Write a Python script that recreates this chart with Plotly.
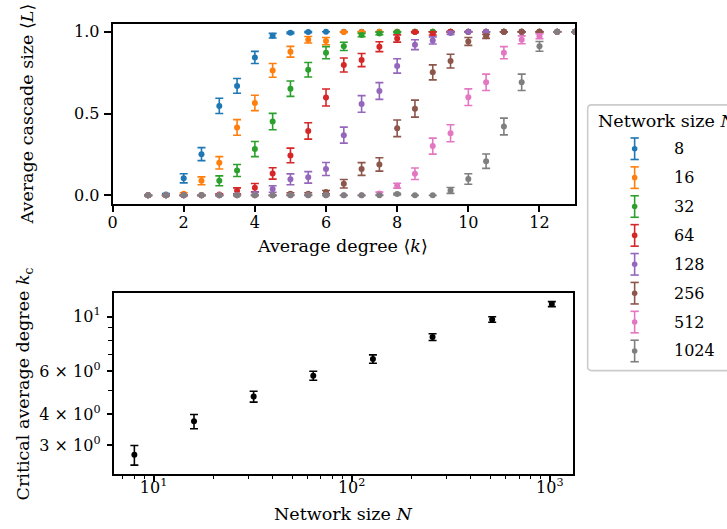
import plotly.graph_objects as go

# ---------------- data ----------------
network_sizes = [8, 16, 32, 64, 128, 256, 512, 1024]
series_colors = ["#1f77b4", "#ff7f0e", "#2ca02c", "#d62728",
                 "#9467bd", "#8c564b", "#e377c2", "#7f7f7f"]

avg_degree = [1.0, 1.5, 2.0, 2.5, 3.0, 3.5, 4.0, 4.5, 5.0, 5.5, 6.0, 6.5, 7.0,
              7.5, 8.0, 8.5, 9.0, 9.5, 10.0, 10.5, 11.0, 11.5, 12.0, 12.5, 13.0]

cascade_n8 = [0.0, 0.005, 0.104, 0.252, 0.547, 0.669, 0.843, 0.976, 0.994, 0.998, 1.0, 1.0, 1.0,
              1.0, 1.0, 1.0, 1.0, 1.0, 1.0, 1.0, 1.0, 1.0, 1.0, 1.0, 1.0]
err_n8 = [0.0, 0.006, 0.028, 0.040, 0.047, 0.045, 0.037, 0.014, 0.005, 0.003, 0.0, 0.0, 0.0,
          0.0, 0.0, 0.0, 0.0, 0.0, 0.0, 0.0, 0.0, 0.0, 0.0, 0.0, 0.0]

cascade_n16 = [0.0, 0.0, 0.010, 0.089, 0.199, 0.415, 0.565, 0.764, 0.878, 0.951, 0.943, 0.999, 0.998,
               1.0, 1.0, 1.0, 1.0, 1.0, 1.0, 1.0, 1.0, 1.0, 1.0, 1.0, 1.0]
err_n16 = [0.0, 0.0, 0.006, 0.024, 0.038, 0.048, 0.047, 0.042, 0.033, 0.020, 0.022, 0.003, 0.003,
           0.0, 0.0, 0.0, 0.0, 0.0, 0.0, 0.0, 0.0, 0.0, 0.0, 0.0, 0.0]

cascade_n32 = [0.0, 0.0, 0.0, 0.0, 0.089, 0.152, 0.283, 0.451, 0.652, 0.768, 0.872, 0.911, 0.980,
               0.990, 0.998, 1.0, 1.0, 1.0, 1.0, 1.0, 1.0, 1.0, 1.0, 1.0, 1.0]
err_n32 = [0.0, 0.0, 0.0, 0.0, 0.030, 0.037, 0.046, 0.050, 0.047, 0.044, 0.037, 0.025, 0.010,
           0.008, 0.004, 0.0, 0.0, 0.0, 0.0, 0.0, 0.0, 0.0, 0.0, 0.0, 0.0]

cascade_n64 = [0.0, 0.0, 0.0, 0.0, 0.005, 0.028, 0.047, 0.134, 0.244, 0.394, 0.598, 0.797, 0.827,
               0.909, 0.959, 0.998, 0.990, 1.0, 1.0, 1.0, 1.0, 1.0, 1.0, 1.0, 1.0]
err_n64 = [0.0, 0.0, 0.0, 0.0, 0.004, 0.018, 0.025, 0.035, 0.045, 0.050, 0.052, 0.043, 0.040,
           0.030, 0.022, 0.004, 0.010, 0.003, 0.0, 0.0, 0.0, 0.0, 0.0, 0.0, 0.0]

cascade_n128 = [0.0, 0.0, 0.0, 0.0, 0.0, 0.002, 0.010, 0.039, 0.098, 0.110, 0.161, 0.368, 0.559,
                0.638, 0.791, 0.921, 0.947, 0.992, 1.0, 1.0, 1.0, 1.0, 1.0, 1.0, 1.0]
err_n128 = [0.0, 0.0, 0.0, 0.0, 0.0, 0.003, 0.008, 0.020, 0.033, 0.035, 0.040, 0.049, 0.051,
            0.051, 0.044, 0.030, 0.022, 0.008, 0.002, 0.0, 0.0, 0.0, 0.0, 0.0, 0.0]

cascade_n256 = [0.0, 0.0, 0.0, 0.0, 0.0, 0.0, 0.0, 0.0, 0.010, 0.010, 0.020, 0.071, 0.161,
                0.189, 0.410, 0.530, 0.752, 0.821, 0.941, 0.972, 1.0, 1.0, 1.0, 1.0, 1.0]
err_n256 = [0.0, 0.0, 0.0, 0.0, 0.0, 0.0, 0.0, 0.0, 0.006, 0.006, 0.010, 0.026, 0.039,
            0.041, 0.051, 0.052, 0.046, 0.042, 0.024, 0.012, 0.0, 0.0, 0.0, 0.0, 0.0]

cascade_n512 = [0.0, 0.0, 0.0, 0.0, 0.0, 0.0, 0.0, 0.0, 0.0, 0.0, 0.0, 0.0, 0.0,
                0.012, 0.059, 0.132, 0.301, 0.380, 0.600, 0.691, 0.872, 0.951, 0.972, 1.0, 1.0]
err_n512 = [0.0, 0.0, 0.0, 0.0, 0.0, 0.0, 0.0, 0.0, 0.0, 0.0, 0.0, 0.0, 0.0,
            0.008, 0.015, 0.035, 0.049, 0.052, 0.051, 0.050, 0.037, 0.024, 0.015, 0.0, 0.0]

cascade_n1024 = [0.0, 0.0, 0.0, 0.0, 0.0, 0.0, 0.0, 0.0, 0.0, 0.0, 0.0, 0.0, 0.0,
                 0.0, 0.008, 0.0, 0.0, 0.030, 0.100, 0.209, 0.421, 0.691, 0.911, 1.0, 1.0]
err_n1024 = [0.0, 0.0, 0.0, 0.0, 0.0, 0.0, 0.0, 0.0, 0.0, 0.0, 0.0, 0.0, 0.0,
             0.0, 0.005, 0.0, 0.0, 0.018, 0.032, 0.044, 0.051, 0.050, 0.030, 0.0, 0.0]

cascade_values = [cascade_n8, cascade_n16, cascade_n32, cascade_n64,
                  cascade_n128, cascade_n256, cascade_n512, cascade_n1024]
cascade_errors = [err_n8, err_n16, err_n32, err_n64,
                  err_n128, err_n256, err_n512, err_n1024]

critical_degree = [2.74, 3.75, 4.73, 5.75, 6.72, 8.25, 9.72, 11.23]
critical_err = [0.25, 0.25, 0.24, 0.24, 0.26, 0.26, 0.25, 0.26]

top_xticks = [0, 2, 4, 6, 8, 10, 12]
top_yticks = [0.0, 0.5, 1.0]
top_yticklabels = ["0.0", "0.5", "1.0"]
bot_xticks = [10, 100, 1000]
bot_xticklabels = ["10<sup>1</sup>", "10<sup>2</sup>", "10<sup>3</sup>"]
bot_xminor = [7, 8, 9, 20, 30, 40, 50, 60, 70, 80, 90,
              200, 300, 400, 500, 600, 700, 800, 900]
bot_yticks = [3, 4, 6, 10]
bot_yticklabels = ["3 × 10<sup>0</sup>", "4 × 10<sup>0</sup>",
                   "6 × 10<sup>0</sup>", "10<sup>1</sup>"]
bot_yminor = [5, 7, 8, 9]

# ---------------- layout helpers ----------------
W, H = 727, 529
FONT = "DejaVu Serif"
FS_TICK = 16
FS_TITLE = 17.5


def px(x):
    return x / W


def py(y):
    return 1 - y / H


fig = go.Figure()

# top panel: cascade size curves
for n, color, vals, errs in zip(network_sizes, series_colors, cascade_values, cascade_errors):
    fig.add_trace(go.Scatter(
        x=avg_degree, y=vals, mode="markers", name=str(n),
        marker=dict(color=color, size=6),
        error_y=dict(type="data", array=errs, color=color, thickness=1.6, width=4),
        xaxis="x", yaxis="y", showlegend=False,
    ))

# bottom panel: critical degree vs network size
fig.add_trace(go.Scatter(
    x=network_sizes, y=critical_degree, mode="markers",
    marker=dict(color="black", size=6),
    error_y=dict(type="data", array=critical_err, color="black", thickness=1.6, width=4),
    xaxis="x2", yaxis="y2", showlegend=False,
))

axis_common = dict(
    showline=True, mirror=True, linecolor="black", linewidth=1.6,
    ticks="outside", tickcolor="black", tickwidth=1.6,
    showgrid=False, zeroline=False,
    tickfont=dict(family=FONT, size=FS_TICK, color="black"),
)

fig.update_layout(
    width=W, height=H,
    margin=dict(l=0, r=0, t=0, b=0),
    paper_bgcolor="white", plot_bgcolor="white",
    font=dict(family=FONT, size=FS_TICK, color="black"),
    xaxis=dict(domain=[px(108.3), px(574)], range=[0, 13], anchor="y",
               tickvals=top_xticks, ticklen=7, ticklabelstandoff=-4, **axis_common),
    yaxis=dict(domain=[py(203.3), py(22.7)], range=[-0.05, 1.05], anchor="x",
               tickvals=top_yticks, ticktext=top_yticklabels, ticklen=7,
               ticklabelstandoff=1, **axis_common),
    xaxis2=dict(domain=[px(109.3), px(571.7)], type="log", range=[0.798, 3.116],
                anchor="y2", tickvals=bot_xticks, ticktext=bot_xticklabels, ticklen=7,
                ticklabelstandoff=-9,
                minor=dict(tickvals=bot_xminor, ticks="outside", ticklen=4,
                           tickwidth=1.2, tickcolor="black"),
                **axis_common),
    yaxis2=dict(domain=[py(474.3), py(293.3)], type="log", range=[0.362, 1.0947],
                anchor="x2", tickvals=bot_yticks, ticktext=bot_yticklabels, ticklen=5,
                ticklabelstandoff=3,
                minor=dict(tickvals=bot_yminor, ticks="outside", ticklen=4,
                           tickwidth=1.2, tickcolor="black"),
                **axis_common),
)

# axis titles
titles = [
    ("Average degree ⟨<i>k</i>⟩", 340, 246, 0),
    ("Average cascade size ⟨<i>L</i>⟩", 22, 113, -90),
    ("Network size <i>N</i>", 340.5, 515, 0),
    ("Critical average degree <i>k</i><sub>c</sub>", 20, 384, -90),
]
for text, x, y, ang in titles:
    fig.add_annotation(text=text, x=px(x), y=py(y), xref="paper", yref="paper",
                       showarrow=False, textangle=ang, xanchor="center", yanchor="middle",
                       font=dict(family=FONT, size=FS_TITLE, color="black"))

# legend box (rounded frame running off the right edge)
lx0, lx1, ly0, ly1, r = 586.7, 740, 104.3, 371, 4
frame = (f"M {px(lx0 + r)},{py(ly0)} L {px(lx1)},{py(ly0)} L {px(lx1)},{py(ly1)} "
         f"L {px(lx0 + r)},{py(ly1)} Q {px(lx0)},{py(ly1)} {px(lx0)},{py(ly1 - r)} "
         f"L {px(lx0)},{py(ly0 + r)} Q {px(lx0)},{py(ly0)} {px(lx0 + r)},{py(ly0)} Z")
fig.add_shape(type="path", path=frame, xref="paper", yref="paper",
              line=dict(color="#cccccc", width=1.6), fillcolor="rgba(255,255,255,0.8)")
fig.add_annotation(text="Network size <i>N</i>", x=px(595), y=py(120), xref="paper", yref="paper",
                   showarrow=False, xanchor="left", yanchor="middle",
                   font=dict(family=FONT, size=FS_TITLE, color="black"))

gx, half, cap, dot = 634, 10.8, 4.2, 2.8
for i, (n, color) in enumerate(zip(network_sizes, series_colors)):
    yc = 148.3 + 29.0 * i
    fig.add_shape(type="line", xref="paper", yref="paper",
                  x0=px(gx), x1=px(gx), y0=py(yc - half), y1=py(yc + half),
                  line=dict(color=color, width=1.6))
    for yy in (yc - half, yc + half):
        fig.add_shape(type="line", xref="paper", yref="paper",
                      x0=px(gx - cap), x1=px(gx + cap), y0=py(yy), y1=py(yy),
                      line=dict(color=color, width=1.6))
    fig.add_shape(type="circle", xref="paper", yref="paper",
                  x0=px(gx - dot), x1=px(gx + dot), y0=py(yc + dot), y1=py(yc - dot),
                  line=dict(color=color, width=0), fillcolor=color)
    fig.add_annotation(text=str(n), x=px(671.7), y=py(yc), xref="paper", yref="paper",
                       showarrow=False, xanchor="left", yanchor="middle",
                       font=dict(family=FONT, size=FS_TICK, color="black"))

fig.write_html("out.html")
